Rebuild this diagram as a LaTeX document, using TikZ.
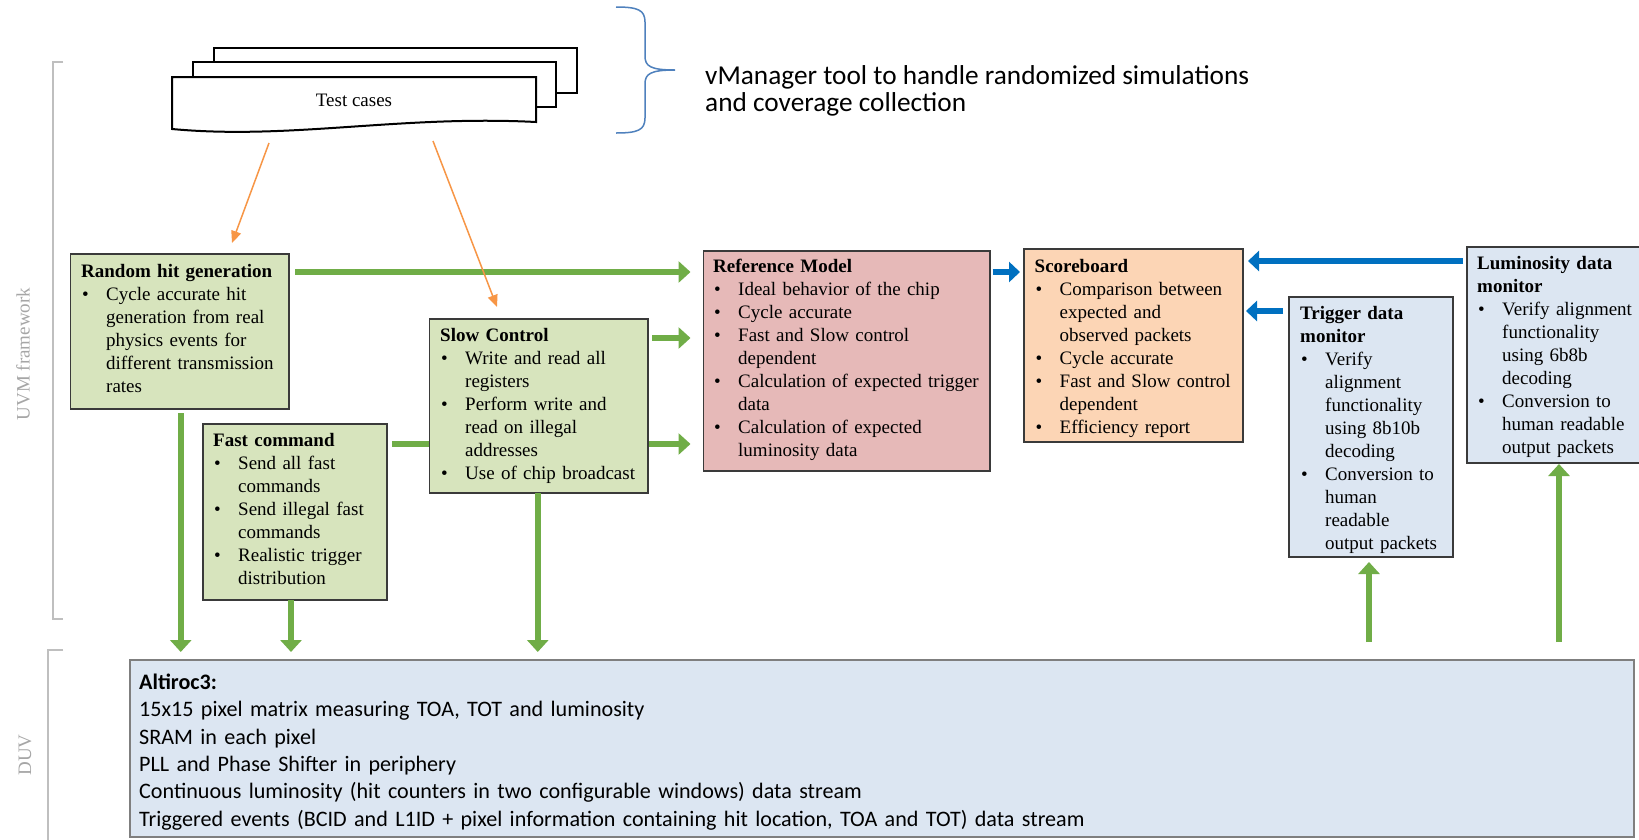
\documentclass[tikz,border=0pt]{standalone}
\usepackage{fontspec}
\setmainfont{Liberation Serif}
\newfontfamily\calib{Carlito}
\usetikzlibrary{arrows.meta,calc}
\definecolor{gfill}{HTML}{D7E4BD}
\definecolor{pfill}{HTML}{E6B9B8}
\definecolor{ofill}{HTML}{FCD5B5}
\definecolor{bfill}{HTML}{DCE6F2}
\definecolor{bordc}{HTML}{3A3A3A}
\definecolor{duvbord}{HTML}{7F7F7F}
\definecolor{garr}{HTML}{70AD47}
\definecolor{barr}{HTML}{0070C0}
\definecolor{oarr}{HTML}{F79646}
\definecolor{brc}{HTML}{4F81BD}
\definecolor{lblgray}{HTML}{A6A6A6}
\definecolor{brkgray}{HTML}{BFBFBF}
\newcommand{\itm}[1]{\par\noindent\makebox[25pt][l]{\hspace{1pt}\textbullet}#1}
\newcommand{\cnt}[1]{\par\noindent\hspace*{25pt}#1}
\newcommand{\ttl}[1]{\noindent\textbf{#1}\strut}
\begin{document}
\begin{tikzpicture}[x=1pt,y=-1pt,
  box/.style n args={3}{draw=bordc, line width=1.4pt, fill=#1, anchor=north west, inner sep=0pt, outer sep=0pt, minimum width=#2, minimum height=#3},
  txt/.style={anchor=north west, inner sep=0pt, text width=300pt, align=left, font=\fontsize{19}{23}\selectfont},
  garrow/.style={draw=garr, line width=6.5pt, -{Triangle[width=21pt,length=12pt]}},
  gline/.style={draw=garr, line width=6.5pt},
  barrow/.style={draw=barr, line width=6.5pt, -{Triangle[width=20pt,length=11pt]}},
  oarrow/.style={draw=oarr, line width=1.5pt, -{Triangle[width=10pt,length=12pt]}},
  docline/.style={draw=black, line width=2pt, fill=white},
  brkt/.style={draw=brkgray, line width=1.3pt},
  sidelbl/.style={text=lblgray, font=\fontsize{19}{23}\selectfont, rotate=90, inner sep=0pt}
]
\useasboundingbox (0,0) rectangle (1639,839);
\fill[white] (0,0) rectangle (1639,839);

% side brackets and labels
\draw[brkt] (63,62) -- (53,62) -- (53,619) -- (63,619);
\draw[brkt] (63,650) -- (48,650) -- (48,845);
\node[sidelbl] (uvmlbl) at (23,354) {UVM framework};
\node[sidelbl] (duvlbl) at (25,755) {DUV};

% stacked test-case documents
\draw[docline] (214,48) rectangle (577,93);
\draw[docline] (193,62) rectangle (556,107);
\draw[docline] (172,77) -- (536,77) -- (536,122) .. controls (400,115) and (290,140) .. (172,129) -- cycle;
\node[font=\fontsize{19}{23}\selectfont, anchor=base, inner sep=0pt] (tct) at (354,106) {Test cases};
\coordinate (tcA) at (269,143);
\coordinate (tcB) at (433,141);

% brace
\draw[draw=brc, line width=1.5pt] (616,7) .. controls (638,7) and (645,10) .. (645,22) -- (645,56)
  .. controls (645,66) and (650,70) .. (675,70) .. controls (650,70) and (645,74) .. (645,84)
  -- (645,118) .. controls (645,130) and (638,133) .. (616,133);
\node[anchor=north west, inner sep=0pt, font=\calib\fontsize{27.3}{27.5}\selectfont, align=left] (vm) at (705,65)
  {\strut vManager tool to handle randomized simulations\\and coverage collection};

% boxes
\node[box={gfill}{218.5pt}{155pt}] (rh) at (70.5,254) {};
\node[box={gfill}{184pt}{176pt}] (fc) at (203,424) {};
\node[box={pfill}{286.5pt}{220pt}] (rm) at (703.5,251) {};
\draw[gline] ($(fc.north east)+(5,20)$) -- ($(rm.north west)+(-20,193)$);
\draw[garrow] ($(fc.north east)+(200,20)$) -- ($(rm.north west)+(-13,193)$);
\node[box={gfill}{218.5pt}{174pt}] (sc) at (429.5,319) {};
\node[box={ofill}{219pt}{193pt}] (sb) at (1024,249) {};
\node[box={bfill}{164pt}{260pt}] (tdm) at (1289,297) {};
\node[box={bfill}{178pt}{216pt}] (ldm) at (1467,247) {};
\node[box={bfill}{1504pt}{177pt}, draw=duvbord] (duv) at (130,660) {};

% green arrows
\draw[garrow] ($(rh.north east)+(6,18)$) -- ($(rm.north west)+(-13,21)$);
\draw[garrow] ($(sc.north east)+(4,19)$) -- ($(rm.north west)+(-13,87)$);
\draw[garrow] ($(rh.south)+(1,4)$) -- ($(rh.south |- duv.north)+(1,-8)$);
\draw[garrow] ($(fc.south)+(-4,0)$) -- ($(fc.south |- duv.north)+(-4,-8)$);
\draw[garrow] ($(sc.south)+(-1,0)$) -- ($(sc.south |- duv.north)+(-1,-8)$);
\draw[garrow] ($(tdm.south |- duv.north)+(-2,-18)$) -- ($(tdm.south)+(-2,5)$);
\draw[garrow] ($(ldm.south |- duv.north)+(3,-18)$) -- ($(ldm.south)+(3,1)$);

% blue arrows
\draw[barrow] ($(rm.north east)+(2.5,21)$) -- ($(sb.north west)+(-4,23)$);
\draw[barrow] ($(ldm.north west)+(-4,14)$) -- ($(sb.north east)+(5,12)$);
\draw[barrow] ($(tdm.north west)+(-6,14)$) -- ($(sb.north east)+(3,62)$);

% orange arrows
\draw[oarrow] (tcA) -- ($(rh.north west)+(161.5,-11)$);
\draw[oarrow] (tcB) -- ($(sc.north west)+(67.5,-12)$);

% box texts
\node[txt] (rht) at (81,261.4) {\ttl{Random hit generation}
  \itm{Cycle accurate hit}\cnt{generation from real}\cnt{physics events for}\cnt{different transmission}\cnt{rates}};
\node[txt] (fct) at (213,430.4) {\ttl{Fast command}
  \itm{Send all fast}\cnt{commands}
  \itm{Send illegal fast}\cnt{commands}
  \itm{Realistic trigger}\cnt{distribution}};
\node[txt] (sct) at (440,325.4) {\ttl{Slow Control}
  \itm{Write and read all}\cnt{registers}
  \itm{Perform write and}\cnt{read on illegal}\cnt{addresses}
  \itm{Use of chip broadcast}};
\node[txt] (rmt) at (713,256.4) {\ttl{Reference Model}
  \itm{Ideal behavior of the chip}
  \itm{Cycle accurate}
  \itm{Fast and Slow control}\cnt{dependent}
  \itm{Calculation of expected trigger}\cnt{data}
  \itm{Calculation of expected}\cnt{luminosity data}};
\node[txt] (sbt) at (1034.5,256.4) {\ttl{Scoreboard}
  \itm{Comparison between}\cnt{expected and}\cnt{observed packets}
  \itm{Cycle accurate}
  \itm{Fast and Slow control}\cnt{dependent}
  \itm{Efficiency report}};
\node[txt] (tdmt) at (1300,303.4) {\ttl{Trigger data}\par\ttl{monitor}
  \itm{Verify}\cnt{alignment}\cnt{functionality}\cnt{using 8b10b}\cnt{decoding}
  \itm{Conversion to}\cnt{human}\cnt{readable}\cnt{output packets}};
\node[txt] (ldmt) at (1477,253.4) {\ttl{Luminosity data}\par\ttl{monitor}
  \itm{Verify alignment}\cnt{functionality}\cnt{using 6b8b}\cnt{decoding}
  \itm{Conversion to}\cnt{human readable}\cnt{output packets}};
\node[anchor=north west, inner sep=0pt, text width=1450pt, align=left, font=\calib\fontsize{22.1}{27.3}\selectfont] (duvt) at (139,670.2)
  {\textbf{Altiroc3:}\strut\\
   15x15 pixel matrix measuring TOA, TOT and luminosity\\
   SRAM in each pixel\\
   PLL and Phase Shifter in periphery\\
   Continuous luminosity (hit counters in two configurable windows) data stream\\
   Triggered events (BCID and L1ID + pixel information containing hit location, TOA and TOT) data stream};
\end{tikzpicture}
\end{document}
